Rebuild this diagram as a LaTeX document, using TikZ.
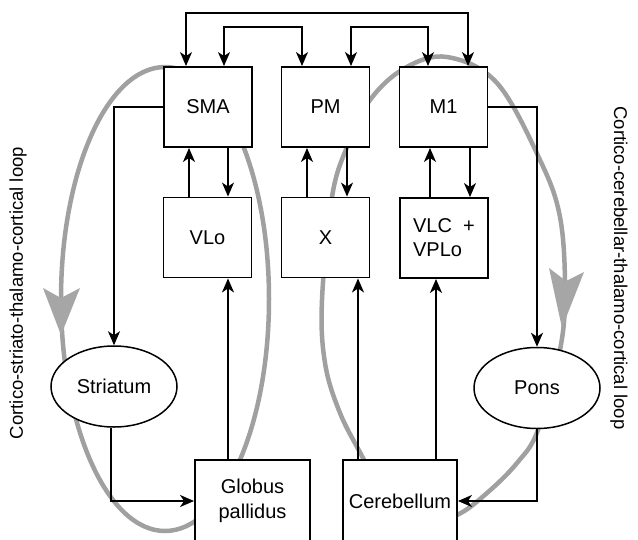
\documentclass[tikz,border=0pt]{standalone}
\usepackage{fontspec}
\setmainfont{Liberation Sans}
\usetikzlibrary{arrows.meta,shapes.geometric}
\definecolor{loopgray}{RGB}{160,160,160}
\definecolor{headgray}{RGB}{166,166,166}
\begin{document}
\begin{tikzpicture}[x=1pt,y=-1pt,
  box/.style={draw=black, line width=1.9pt, fill=white, minimum width=88pt, minimum height=80pt, inner sep=0pt, font=\fontsize{20}{24}\selectfont, align=center},
  oval/.style={ellipse, draw=black, line width=1.5pt, fill=white, minimum width=126pt, minimum height=81pt, inner sep=0pt, font=\fontsize{20}{24}\selectfont},
  conn/.style={line width=1.6pt, -{Stealth[length=14pt,width=12pt,inset=4pt]}},
  biconn/.style={line width=1.6pt, {Stealth[length=14pt,width=12pt,inset=4pt]}-{Stealth[length=14pt,width=12pt,inset=4pt]}},
  loopline/.style={draw=loopgray, line width=4.5pt},
  headshape/.style={fill=headgray, draw=none},
  side/.style={font=\fontsize{18.5}{22}\selectfont, inner sep=0pt}
]
\useasboundingbox (0,0) rectangle (638,539);
\fill[white] (0,0) rectangle (638,539);

% gray loops
\draw[loopline] (165,299) ellipse [x radius=104pt, y radius=232pt];
\draw[loopline] plot[smooth cycle, tension=0.6] coordinates {
  (447,57) (497,83) (540,160) (560,217) (565,290) (560,350) (538,430)
  (517,463) (487,493) (457,515) (420,524) (385,500) (363,458) (340,413)
  (325,363) (322,300) (332,197) (347,147) (370,100) (405,68)};
\fill[headshape] (43,288) -- (61,298) -- (80,288) -- (61,335) -- cycle;
\fill[headshape] (549,268) -- (566,281) -- (584,272) -- (562,328) -- cycle;

% nodes
\node[box] (SMA) at (208,107) {SMA};
\node[box] (PM) at (325.5,107) {PM};
\node[box] (M1) at (443.5,107) {M1};
\node[box] (VLo) at (207.5,237.5) {VLo};
\node[box] (X) at (325.5,237.5) {X};
\node[box, align=left] (VLC) at (444,238) {VLC \ +\\VPLo};
\node[box, minimum width=115pt, minimum height=82pt, font=\fontsize{20}{25}\selectfont] (GP) at (252.5,501) {Globus\\pallidus};
\node[box, minimum width=114pt, minimum height=82pt] (CB) at (400,501) {Cerebellum};
\node[oval] (STR) at (114,386.5) {Striatum};
\node[oval] (PONS) at (537,388) {Pons};

\coordinate (topA) at (0,13);
\coordinate (topB) at (0,27);

% connectors
\draw[conn] (SMA.west) -| (STR.north);
\draw[conn] ([xshift=-3pt]STR.south) |- (GP.west);
\draw[conn] (M1.east) -| (PONS.north);
\draw[conn] (PONS.south) |- (CB.east);

\draw[conn] ([xshift=20pt]SMA.south) -- ([xshift=20.5pt]VLo.north);
\draw[conn] ([xshift=-18.5pt]VLo.north) -- ([xshift=-19pt]SMA.south);
\draw[conn] ([xshift=21.5pt]PM.south) -- ([xshift=21.5pt]X.north);
\draw[conn] ([xshift=-18.5pt]X.north) -- ([xshift=-18.5pt]PM.south);
\draw[conn] ([xshift=26.5pt]M1.south) -- ([xshift=26pt]VLC.north);
\draw[conn] ([xshift=-14pt]VLC.north) -- ([xshift=-13.5pt]M1.south);

\draw[conn] ([xshift=-24.5pt]GP.north) -- ([xshift=20.5pt]VLo.south);
\draw[conn] ([xshift=-42pt]CB.north) -- ([xshift=32.5pt]X.south);
\draw[conn] ([xshift=36pt]CB.north) -- ([xshift=-8pt]VLC.south);

\draw[biconn] ([xshift=-22pt]SMA.north) -- ([xshift=-22pt]SMA.north |- topA) -| ([xshift=24.5pt]M1.north);
\draw[biconn] ([xshift=16pt]SMA.north) -- ([xshift=16pt]SMA.north |- topB) -| ([xshift=-23.5pt]PM.north);
\draw[biconn] ([xshift=25.5pt]PM.north) -- ([xshift=25.5pt]PM.north |- topB) -| ([xshift=-15.5pt]M1.north);

% side labels
\node[side, rotate=90] (L1) at (18,293) {Cortico-striato-thalamo-cortical loop};
\node[side, rotate=-90] (L2) at (619,268) {Cortico-cerebellar-thalamo-cortical loop};
\end{tikzpicture}
\end{document}
